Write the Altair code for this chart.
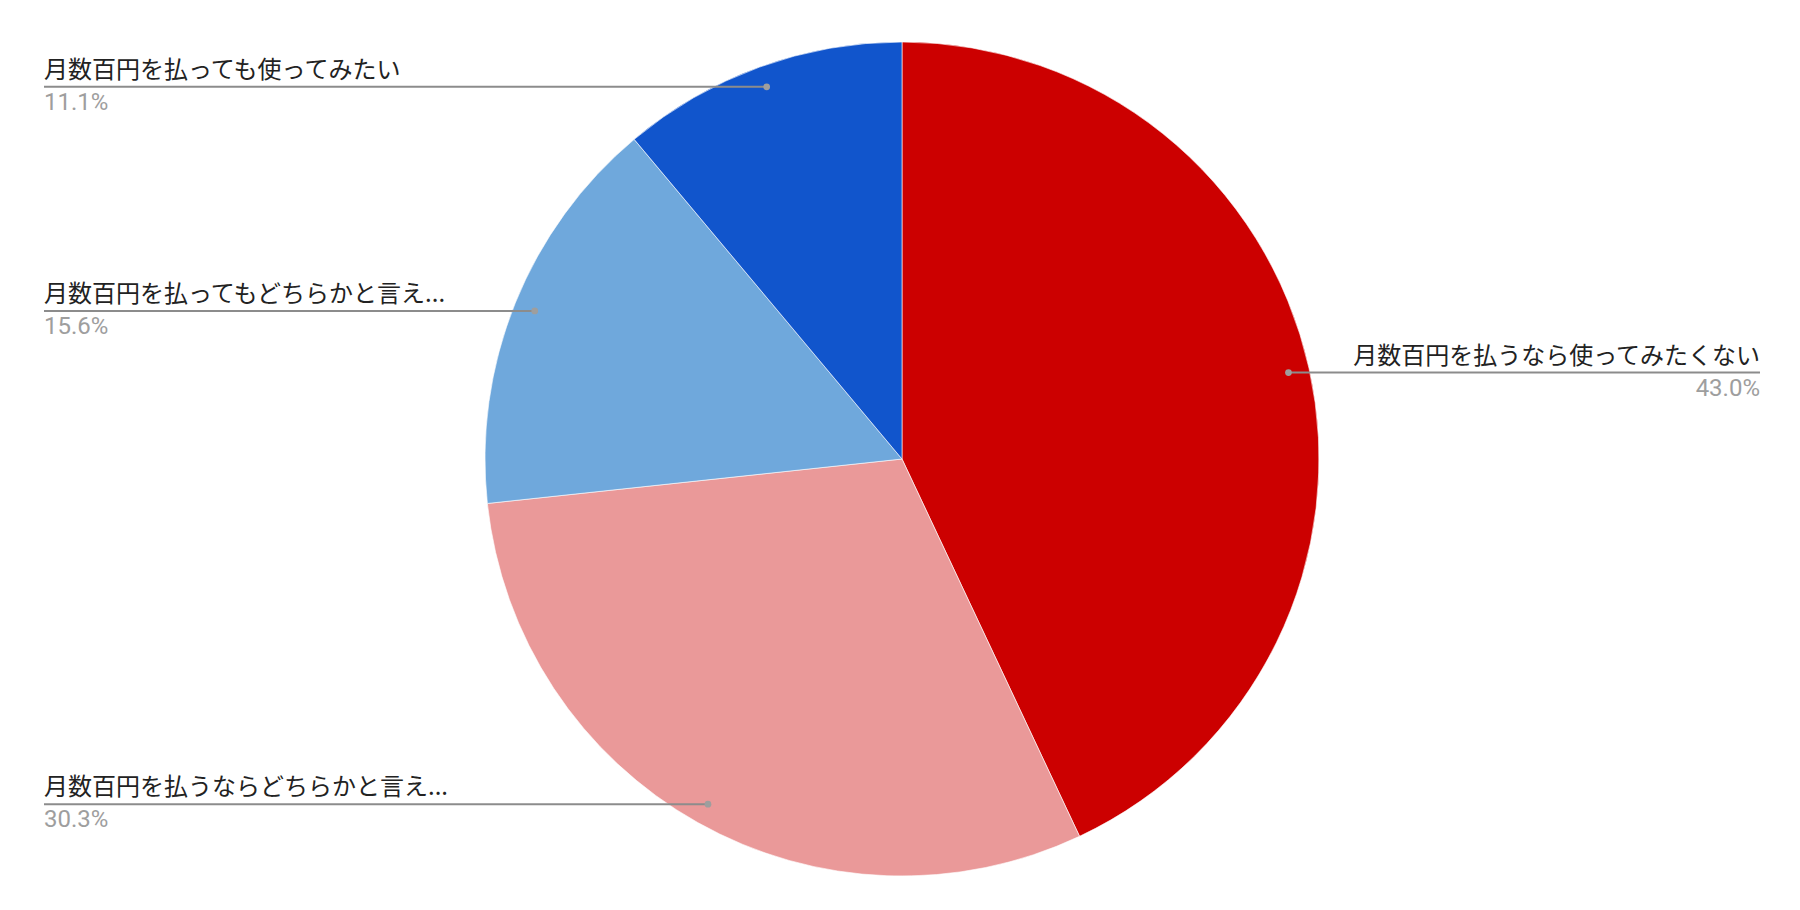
import math
import altair as alt
import pandas as pd

labels = [
    "月数百円を払うなら使ってみたくない",
    "月数百円を払うならどちらかと言え...",
    "月数百円を払ってもどちらかと言え...",
    "月数百円を払っても使ってみたい",
]
values = [43.0, 30.3, 15.6, 11.1]
colors = ["#cc0000", "#ea9999", "#6fa8dc", "#1155cc"]

# layout constants (chart pixel space)
W, H = 1784, 894
CX, CY, R = 894, 451, 417
R_DOT = 396
LEFT_X, RIGHT_X = 36, 1752

total = sum(values)
rows = []
cum = 0.0
for i, (lab, v) in enumerate(zip(labels, values)):
    mid = (cum + v / 2) / total * 2 * math.pi
    cum += v
    dx = CX + R_DOT * math.sin(mid)
    dy = CY - R_DOT * math.cos(mid)
    side = "right" if math.sin(mid) > 0 else "left"
    end = RIGHT_X if side == "right" else LEFT_X
    rows.append(dict(idx=i, label=lab, value=v, pct=f"{v:.1f}%",
                     dot_x=dx, dot_y=dy, end_x=end, side=side,
                     txt_y=dy - 9, pct_y=dy + 23))
df = pd.DataFrame(rows)

base = alt.Chart(df)

pie = base.mark_arc(radius=R, stroke="white", strokeWidth=0.6).encode(
    theta=alt.Theta("value:Q", stack=True),
    order=alt.Order("idx:Q"),
    color=alt.Color("label:N", scale=alt.Scale(domain=labels, range=colors), legend=None),
    x=alt.value(CX),
    y=alt.value(CY),
)

lines = base.mark_rule(color="#8c8c8c", strokeWidth=2).encode(
    x=alt.X("dot_x:Q", scale=None),
    x2="end_x:Q",
    y=alt.Y("dot_y:Q", scale=None),
)

dots = base.mark_circle(color="#9e9e9e", size=45, opacity=1).encode(
    x=alt.X("dot_x:Q", scale=None),
    y=alt.Y("dot_y:Q", scale=None),
)

layers = [pie, lines, dots]
for side in ["left", "right"]:
    sub = base.transform_filter(alt.datum.side == side)
    layers.append(sub.mark_text(align=side, baseline="alphabetic", fontSize=24,
                                font="Noto Sans CJK JP", color="#222222").encode(
        x=alt.X("end_x:Q", scale=None),
        y=alt.Y("txt_y:Q", scale=None),
        text="label:N",
    ))
    layers.append(sub.mark_text(align=side, baseline="alphabetic", fontSize=24,
                                font="Roboto", color="#9e9e9e").encode(
        x=alt.X("end_x:Q", scale=None),
        y=alt.Y("pct_y:Q", scale=None),
        text="pct:N",
    ))

chart = alt.layer(*layers).properties(
    width=W, height=H, padding=0,
    autosize=alt.AutoSizeParams(type="none"),
).configure_view(stroke=None)

chart.save("out.html", embed_options={"renderer": "svg", "actions": False})
